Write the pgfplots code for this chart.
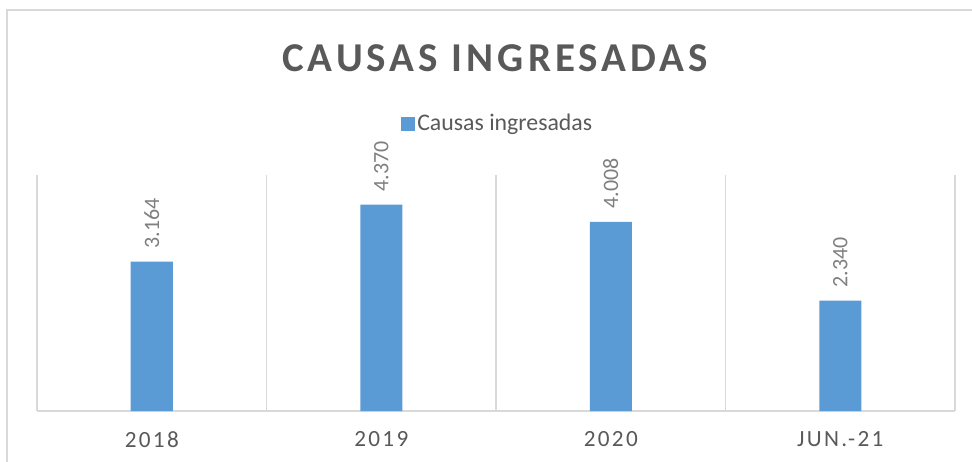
\documentclass[border=0pt]{standalone}
\usepackage{fontspec}
\setmainfont{Carlito}
\usepackage{pgfplots}
\pgfplotsset{compat=1.18}
\definecolor{barblue}{HTML}{5B9BD5}
\definecolor{txtgray}{HTML}{595959}
\definecolor{lblgray}{HTML}{7F7F7F}
\definecolor{gridgray}{HTML}{D9D9D9}
\newfontfamily\titlefont[LetterSpace=10]{Carlito}
\newfontfamily\tickfont[LetterSpace=10]{Carlito}
\begin{document}
\begin{tikzpicture}
\path[use as bounding box] (-18.5pt,-25pt) rectangle (467.5pt,205.5pt);
\draw[gridgray, line width=1pt] (-15pt,-40pt) -- (-15pt,200.5pt) -- (480pt,200.5pt);
\begin{axis}[
  width=459pt, height=118pt, scale only axis,
  xmin=-0.5, xmax=3.5, ymin=0, ymax=5000,
  axis x line=bottom, axis y line=none,
  axis line style={gridgray, line width=0.75pt, -},
  xtick={0,1,2,3},
  xticklabels={2018,2019,2020,JUN.-21},
  major tick length=0pt,
  minor xtick={-0.5,0.5,1.5,2.5,3.5},
  minor tick length=0pt,
  minor x grid style={gridgray, line width=0.6pt},
  xminorgrids=true,
  ytick=\empty,
  xticklabel style={font=\tickfont\fontsize{11.6}{13}\selectfont, text=txtgray, inner sep=0pt, anchor=north, yshift=-10pt},
  title={\titlefont\bfseries CAUSAS INGRESADAS},
  title style={at={(0.499,1.445)}, anchor=center, font=\fontsize{20.5}{24}\selectfont, text=txtgray, inner sep=0pt},
  legend style={at={(0.503,1.216)}, anchor=center, draw=none, fill=none, font=\fontsize{11.9}{13}\selectfont, text=txtgray, inner sep=0pt, legend cell align=left},
  legend image code/.code={\fill[barblue] (0pt,-3.5pt) rectangle (7pt,3.5pt);},
  legend style={/tikz/every even column/.append style={column sep=0pt}},
  clip=false,
]
\addplot[ybar, bar width=21pt, fill=barblue, draw=none,
  point meta=explicit symbolic,
  nodes near coords,
  every node near coord/.append style={rotate=90, anchor=west, inner xsep=6.5pt, inner ysep=0pt, font=\fontsize{11}{13}\selectfont, text=lblgray}]
  coordinates {(0,3164) [3.164] (1,4370) [4.370] (2,4008) [4.008] (3,2340) [2.340]};
\addlegendentry{\hspace{-1pt}Causas ingresadas}
\end{axis}
\end{tikzpicture}
\end{document}
